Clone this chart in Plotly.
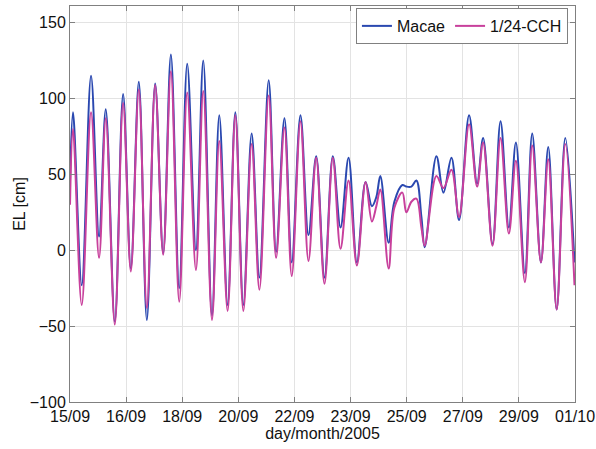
import pandas as pd
import plotly.graph_objects as go

# Times of the turning points (2005)
times = [
    "2005-09-15 00:00", "2005-09-15 02:17", "2005-09-15 08:55", "2005-09-15 16:00",
    "2005-09-15 22:06", "2005-09-16 03:12", "2005-09-16 10:04", "2005-09-16 16:23",
    "2005-09-16 22:15", "2005-09-17 04:20", "2005-09-17 10:26", "2005-09-17 16:46",
    "2005-09-17 22:51", "2005-09-18 04:43", "2005-09-18 11:03", "2005-09-18 17:08",
    "2005-09-18 23:46", "2005-09-19 05:20", "2005-09-19 11:58", "2005-09-19 17:31",
    "2005-09-19 23:51", "2005-09-20 05:43", "2005-09-20 11:49", "2005-09-20 18:08",
    "2005-09-21 00:00", "2005-09-21 07:05", "2005-09-21 12:43", "2005-09-21 19:03",
    "2005-09-22 00:37", "2005-09-22 07:14", "2005-09-22 13:20", "2005-09-22 19:12",
    "2005-09-23 01:31", "2005-09-23 07:51", "2005-09-23 13:43", "2005-09-23 19:49",
    "2005-09-24 02:08", "2005-09-24 08:46", "2005-09-24 13:34", "2005-09-24 16:55",
    "2005-09-24 19:58", "2005-09-25 02:17", "2005-09-25 06:38", "2005-09-25 12:43",
    "2005-09-25 15:46", "2005-09-25 19:35", "2005-09-25 23:23", "2005-09-26 03:12",
    "2005-09-26 05:43", "2005-09-26 14:37", "2005-09-26 19:58", "2005-09-27 02:03",
    "2005-09-27 07:50", "2005-09-27 15:28", "2005-09-27 21:34", "2005-09-28 02:08",
    "2005-09-28 09:17", "2005-09-28 15:23", "2005-09-28 21:43", "2005-09-29 03:03",
    "2005-09-29 09:54", "2005-09-29 15:28", "2005-09-29 22:06", "2005-09-30 03:40",
    "2005-09-30 10:04", "2005-09-30 16:37", "2005-09-30 23:37",
]

# Elevation (cm), observed at Macae
macae = [
    45, 91, -23, 115, 9, 93, -47, 103, -12, 111, -46, 110, -2, 129, -25, 123,
    0, 125, -43, 89, -36, 91, -36, 77, -18, 112, -1, 87, -8, 89, 10, 62,
    -18, 62, 15, 61, -8, 45, 29, 35, 49, 5, 32, 43, 42, 42, 46, 22,
    2, 62, 38, 61, 20, 89, 44, 74, 4, 85, 15, 71, -15, 77, -8, 68,
    -39, 74, -8,
]

# Elevation (cm), model 1/24-CCH
cch = [
    30, 80, -36, 91, -5, 87, -49, 97, -14, 106, -38, 109, -3, 118, -34, 104,
    -13, 105, -46, 72, -40, 89, -40, 70, -26, 102, -5, 81, -17, 85, -7, 61,
    -22, 61, 1, 46, -10, 45, 19, 29, 40, -12, 28, 38, 25, 32, 34, 15,
    3, 49, 41, 53, 22, 83, 42, 71, 3, 74, 11, 59, -21, 69, -8, 60,
    -39, 70, -23,
]

start, end = "2005-09-15", "2005-10-01"
tickvals = pd.date_range(start, end, periods=10)
ticktext = [d.strftime("%d/%m") for d in tickvals]
ytickvals = [-100, -50, 0, 50, 100, 150]

FONT = "Liberation Sans, Arial, Helvetica, sans-serif"

fig = go.Figure()
fig.add_trace(go.Scatter(
    x=pd.to_datetime(times), y=macae, name="Macae", mode="lines",
    line=dict(color="#2a48b0", width=2, shape="spline", smoothing=1.0),
))
fig.add_trace(go.Scatter(
    x=pd.to_datetime(times), y=cch, name="1/24-CCH", mode="lines",
    line=dict(color="#c8409c", width=2, shape="spline", smoothing=1.0),
))

axis_common = dict(
    showline=True, linecolor="#808080", linewidth=1, mirror="ticks",
    ticks="inside", ticklen=5, tickcolor="#808080",
    showgrid=True, gridcolor="#e3e3e3", gridwidth=1, zeroline=False,
    automargin=False,
    tickfont=dict(family=FONT, size=16, color="#111"),
)

fig.update_layout(
    width=596, height=449,
    margin=dict(l=70, r=21, t=6, b=47, autoexpand=False),
    paper_bgcolor="white", plot_bgcolor="white",
    font=dict(family=FONT, size=16, color="#111"),
    xaxis=dict(
        range=[pd.Timestamp(start), pd.Timestamp(end)],
        tickmode="array", tickvals=tickvals, ticktext=ticktext,
        title=dict(text="day/month/2005", standoff=2, font=dict(size=16)),
        **axis_common,
    ),
    yaxis=dict(
        range=[-100, 161], tickmode="array", tickvals=ytickvals,
        title=dict(text="EL [cm]", standoff=0, font=dict(size=16)),
        **axis_common,
    ),
    legend=dict(
        orientation="h", x=0.986, xanchor="right", y=0.995, yanchor="top",
        bordercolor="#808080", borderwidth=1, bgcolor="white",
        font=dict(size=16), itemwidth=30, tracegroupgap=0,
    ),
    showlegend=True,
)

fig.write_html(
    "out.html",
    config={"displayModeBar": False},
    post_script="document.body.style.margin='0px';document.body.style.overflow='hidden';",
)
